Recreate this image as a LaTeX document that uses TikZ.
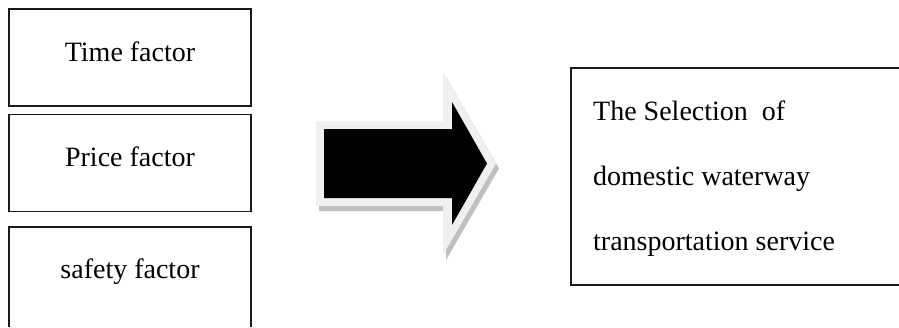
\documentclass[tikz,border=0pt]{standalone}
\usepackage{fontspec}
\setmainfont{Liberation Serif}
\usepackage{xcolor}
\definecolor{cLine}{HTML}{1A1A1A}
\definecolor{cRim}{HTML}{F0F0F0}
\definecolor{cShade}{HTML}{C0C0C0}
\usepackage{tikz}
\usetikzlibrary{positioning}
\tikzset{
  factor-box/.style={draw=cLine,line width=1.6pt,minimum width=242pt,
    minimum height=97pt,inner sep=0pt},
  factor-text/.style={anchor=base,inner sep=0pt,
    font=\fontsize{28}{34}\selectfont},
  open-box/.style={draw=cLine,line width=1.6pt},
  select-text/.style={anchor=base west,inner sep=0pt,
    font=\fontsize{28}{34}\selectfont},
}
\begin{document}
\begin{tikzpicture}[x=1pt,y=-1pt]
  \useasboundingbox (0,0) rectangle (899,327);
  % left column
  \node[factor-box] (time-box) at (130,57.5) {};
  \node[factor-box] (price-box) at (130,163) {};
  \draw[open-box] (9,327) -- (9,227) -- (251,227) -- (251,327);
  \foreach \name/\y/\txt in {time/61/Time factor, price/166/Price factor,
      safety/278/safety factor} {
    \node[factor-text] (\name-text) at (130,\y) {\txt};
  }
  % big arrow: shadow, rim, body
  \fill[cShade,shift={(3,5)}] (316,121) -- (443,121) -- (443,72) -- (496,163.5)
    -- (443,255) -- (443,206) -- (316,206) -- cycle;
  \fill[cRim] (316,121) -- (443,121) -- (443,72) -- (496,163.5)
    -- (443,255) -- (443,206) -- (316,206) -- cycle;
  \fill[black] (324,129) -- (452,129) -- (452,102) -- (487,163.5)
    -- (452,225) -- (452,198) -- (324,198) -- cycle;
  % right box
  \draw[open-box] (899,68) -- (571,68) -- (571,285) -- (899,285);
  \foreach \i/\y/\txt in {1/120/The Selection\ \ of, 2/185/domestic waterway,
      3/250/transportation service} {
    \node[select-text] (select-\i) at (593,\y) {\txt};
  }
\end{tikzpicture}
\end{document}
